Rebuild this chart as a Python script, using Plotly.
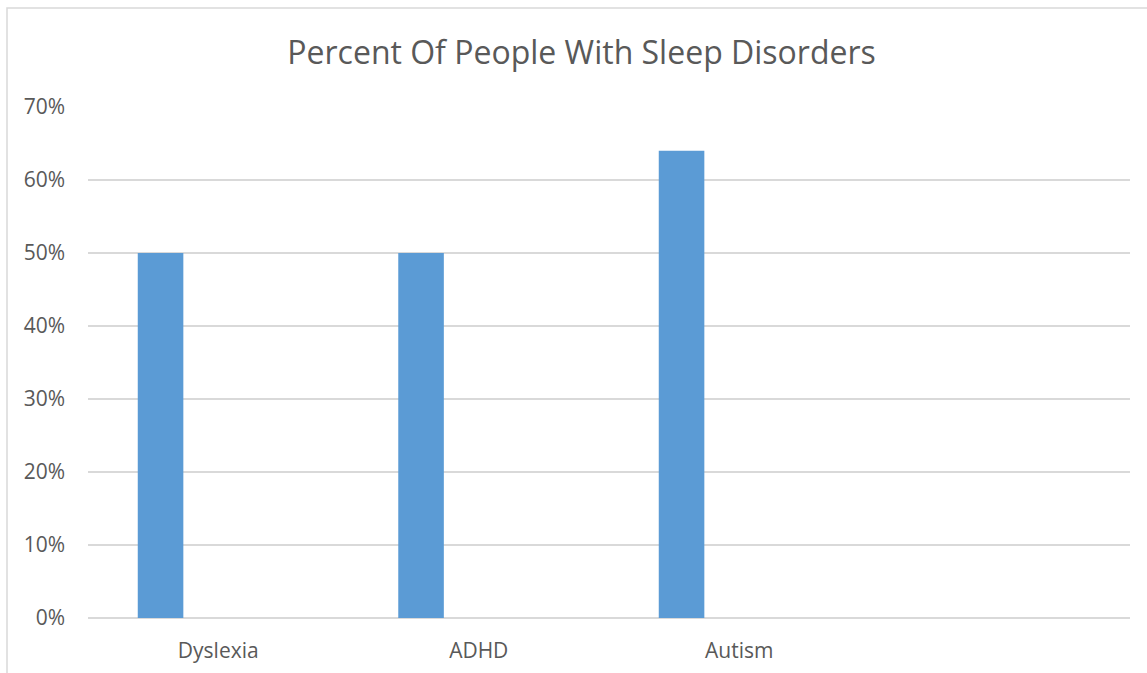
import plotly.graph_objects as go

# Share of people with sleep disorders, by condition
categories = ["Dyslexia", "ADHD", "Autism"]
percent_values = [50, 50, 64]
y_ticks = [0, 10, 20, 30, 40, 50, 60, 70]

TEXT_COLOR = "#595959"
GRID_COLOR = "#d9d9d9"
BAR_COLOR = "#5b9bd5"

fig = go.Figure()
fig.add_trace(go.Bar(
    x=categories,
    y=percent_values,
    marker=dict(color=BAR_COLOR, line=dict(width=0)),
    width=0.175,
    offset=-0.309,
    hoverinfo="x+y",
))

fig.update_layout(
    width=1147,
    height=673,
    paper_bgcolor="white",
    plot_bgcolor="white",
    margin=dict(l=88, r=17, t=107, b=55),
    showlegend=False,
    font=dict(family="Open Sans, sans-serif", color=TEXT_COLOR),
    title=dict(
        text="Percent Of People With Sleep Disorders",
        x=0.507, xanchor="center",
        y=1 - 53 / 673, yanchor="middle",
        font=dict(size=32, color=TEXT_COLOR, family="Open Sans, sans-serif"),
    ),
    xaxis=dict(
        type="category",
        range=[-0.5, 3.5],
        showgrid=False,
        showline=False,
        zeroline=False,
        ticks="",
        tickfont=dict(size=21, color=TEXT_COLOR),
        ticklabelstandoff=18,
        automargin=False,
    ),
    yaxis=dict(
        range=[0, 70],
        tickvals=y_ticks,
        ticktext=[f"{v}%" for v in y_ticks],
        showgrid=True,
        gridcolor=GRID_COLOR,
        gridwidth=1.5,
        zeroline=True,
        zerolinecolor=GRID_COLOR,
        zerolinewidth=1.5,
        showline=False,
        ticks="",
        tickfont=dict(size=21, color=TEXT_COLOR),
        ticklabelstandoff=22,
        automargin=False,
    ),
    shapes=[
        # chart-area frame (left and top edges visible)
        dict(
            type="rect", xref="paper", yref="paper",
            x0=(7 - 88) / 1042, x1=1.5,
            y0=-0.5, y1=(618 - 8) / 511,
            line=dict(color=GRID_COLOR, width=1.5),
            fillcolor="rgba(0,0,0,0)",
            layer="below",
        )
    ],
)

fig.write_html("out.html")
